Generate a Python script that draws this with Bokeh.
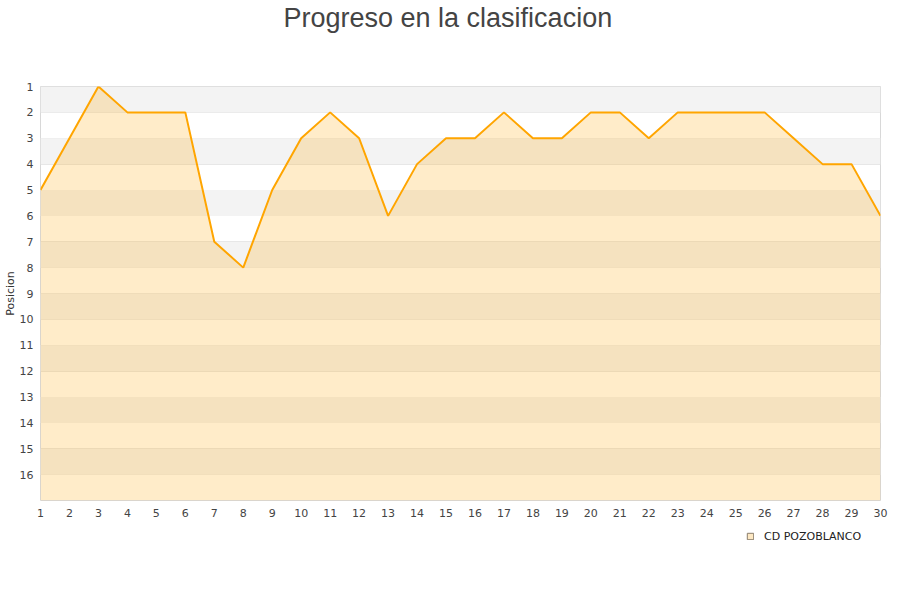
from bokeh.plotting import figure
from bokeh.models import Range1d, FixedTicker, Legend, LegendItem, ColumnDataSource, Title
from bokeh.layouts import column
from bokeh.embed import file_html
from bokeh.resources import INLINE

jornadas = list(range(1, 31))
posicion = [5, 3, 1, 2, 2, 2, 7, 8, 5, 3, 2, 3, 6, 4, 3, 3, 2, 3, 3, 2, 2, 3, 2, 2, 2, 2, 3, 4, 4, 6]
team = "CD POZOBLANCO"
title_text = "Progreso en la clasificacion"
y_ticks = list(range(1, 17))
y_bottom = 17

ORANGE = "#ffa500"

p = figure(width=884, height=522, frame_width=840, frame_height=414,
           output_backend="svg", toolbar_location=None, title_location=None,
           x_range=Range1d(1, 30), y_range=Range1d(y_bottom, 1),
           min_border_left=32, min_border_right=12, min_border_top=0, min_border_bottom=0)

# spacer between title and plot area (added first: nearest to the frame)
p.add_layout(Title(text=" ", text_font_size="10px", standoff=41), "above")
p.add_layout(Title(text=title_text, text_font="Liberation Sans", text_font_size="27px",
                   text_font_style="normal", text_color="#444444", align="left",
                   offset=243, standoff=0), "above")

p.background_fill_color = "white"
p.border_fill_color = "white"
p.outline_line_color = "#d8d8d8"

band_lo = [t for t in y_ticks if t % 2 == 1]
p.quad(left=1, right=30, top=band_lo, bottom=[t + 1 for t in band_lo],
       fill_color="#f3f3f3", line_color=None)

src = ColumnDataSource(dict(x=jornadas, y=posicion, base=[y_bottom] * len(jornadas)))
p.varea(x="x", y1="y", y2="base", source=src, fill_color=ORANGE, fill_alpha=0.21)
p.line(x="x", y="y", source=src, line_color=ORANGE, line_width=2)

p.xgrid.visible = False
p.ygrid.ticker = FixedTicker(ticks=y_ticks)
p.ygrid.grid_line_color = "#e0e0e0"
p.ygrid.grid_line_alpha = 0.9

for ax in (p.xaxis[0], p.yaxis[0]):
    ax.major_tick_line_color = None
    ax.minor_tick_line_color = None
    ax.major_tick_out = 0
    ax.major_tick_in = 0
    ax.minor_tick_out = 0
    ax.minor_tick_in = 0
    ax.axis_line_color = None
    ax.major_label_text_font = "DejaVu Sans"
    ax.major_label_text_font_size = "11px"
    ax.major_label_text_color = "#444444"

p.xaxis.ticker = FixedTicker(ticks=jornadas)
p.xaxis.major_label_standoff = 8
p.yaxis.ticker = FixedTicker(ticks=y_ticks)
p.yaxis.major_label_standoff = 7
p.yaxis.axis_label = "Posicion"
p.yaxis.axis_label_text_font = "DejaVu Sans"
p.yaxis.axis_label_text_font_size = "11px"
p.yaxis.axis_label_text_font_style = "normal"
p.yaxis.axis_label_text_color = "#333333"
p.yaxis.axis_label_standoff = 0

# legend strip below the chart (its frame is aligned with the chart's frame)
lg = figure(width=884, height=28, output_backend="svg", toolbar_location=None,
            title_location=None, x_axis_location=None, y_axis_location=None,
            x_range=Range1d(0, 1), y_range=Range1d(0, 1),
            min_border_left=0, min_border_right=0, min_border_top=0, min_border_bottom=0)
lg.outline_line_color = None
lg.xgrid.visible = False
lg.ygrid.visible = False
lg.background_fill_color = "white"
lg.border_fill_color = "white"
# legend handle only (kept outside the strip's visible range)
swatch = lg.quad(left=[-3], right=[-2], top=[-2], bottom=[-3], fill_color="#fde8c3",
                 line_color="#8a7e6c", line_width=1)
legend = Legend(items=[LegendItem(label=team, renderers=[swatch])], location=(706, 1),
                label_text_font="DejaVu Sans", label_text_font_size="11px",
                label_text_color="#222222", background_fill_alpha=0, border_line_color=None,
                glyph_width=8, glyph_height=8, padding=0, margin=0, label_standoff=10,
                label_height=20)
lg.add_layout(legend, "center")

open("out.html", "w").write(file_html(column(p, lg), INLINE))
